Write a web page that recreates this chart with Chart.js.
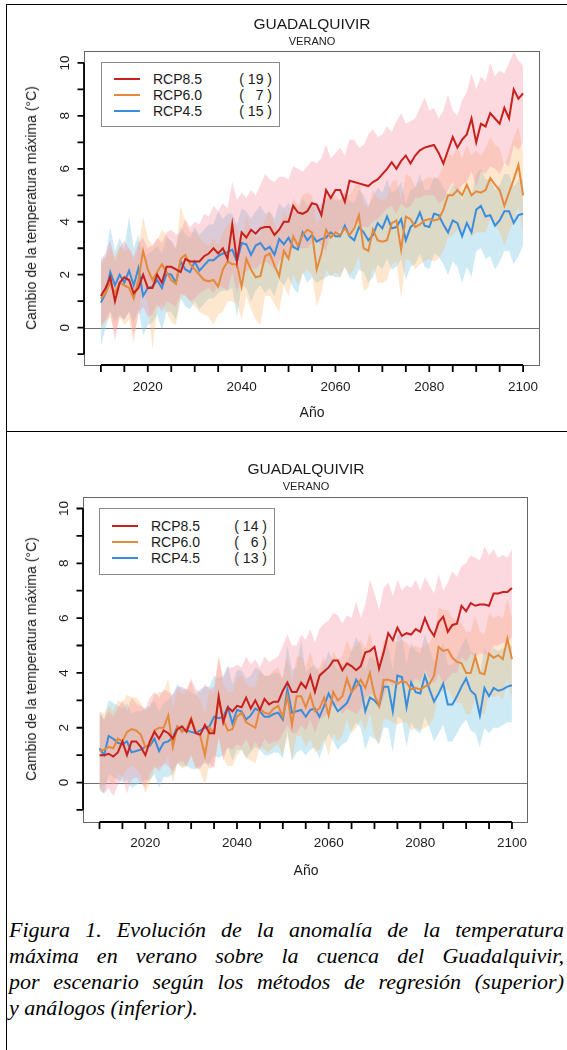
<!DOCTYPE html>
<html lang="es">
<head>
<meta charset="UTF-8">
<title>Guadalquivir - verano</title>
<script src="https://cdn.jsdelivr.net/npm/chart.js@4.4.0/dist/chart.umd.min.js"></script>
<style>
  body { margin: 0; background: #fff; }
  #page { position: relative; width: 567px; height: 1050px; overflow: hidden;
          font-family: "Liberation Sans", Arial, sans-serif; color: #1a1a1a; }
  .frame { position: absolute; left: 6px; top: 4px; width: 561px; height: 1046px;
           border-top: 1px solid #000; border-left: 1px solid #000; }
  .divider { position: absolute; left: 6px; top: 431px; width: 561px; border-top: 1px solid #000; }
  canvas { position: absolute; left: 0; }
  .t { position: absolute; transform: translate(-50%, -50%); white-space: nowrap; line-height: 1; }
  .title { font-size: 15.5px; }
  .sub { font-size: 11px; }
  .lab { font-size: 14px; }
  .ytitle { transform: translate(-50%, -50%) rotate(-90deg); }
  .legend { position: absolute; border: 1px solid #8a8a8a; background: #fff; }
  .lline { position: absolute; height: 2px; }
  .ltxt { position: absolute; font-size: 14px; line-height: 1; transform: translateY(-50%); white-space: nowrap; }
  .cap { position: absolute; left: 9px; width: 555px; font: italic 22px "Liberation Serif", "Times New Roman", serif;
         line-height: 26px; text-align: justify; text-align-last: justify; color: #000; }
  .cap.last { text-align-last: left; }
</style>
</head>
<body>
<div id="page">
  <div class="frame"></div>
  <div class="divider"></div>

  <!-- Gráfico superior: regresión -->
  <canvas id="chartReg" width="567" height="432" style="top:0"></canvas>
  <div class="t title" style="left:312px; top:24px">GUADALQUIVIR</div>
  <div class="t sub" style="left:312px; top:41px">VERANO</div>
  <div class="t lab ytitle" style="left:31px; top:208px">Cambio de la temperatura máxima (°C)</div>
  <div class="t lab" style="left:312px; top:412px">Año</div>
  <div class="legend" style="left:101px; top:62px; width:177px; height:63px"></div>
  <div class="lline" style="left:114px; top:78px; width:26px; background:#c8201c"></div>
  <div class="lline" style="left:114px; top:94px; width:26px; background:#e58a3c"></div>
  <div class="lline" style="left:114px; top:110px; width:26px; background:#3a8ddc"></div>
  <div class="ltxt" style="left:153px; top:79px">RCP8.5</div>
  <div class="ltxt" style="left:153px; top:95px">RCP6.0</div>
  <div class="ltxt" style="left:153px; top:111px">RCP4.5</div>
  <div class="ltxt" style="right:295px; top:79px">( 19 )</div>
  <div class="ltxt" style="right:295px; top:95px">(&nbsp;&nbsp;&nbsp;7 )</div>
  <div class="ltxt" style="right:295px; top:111px">( 15 )</div>

  <!-- Gráfico inferior: análogos -->
  <canvas id="chartAna" width="567" height="450" style="top:432px"></canvas>
  <div class="t title" style="left:306px; top:469px">GUADALQUIVIR</div>
  <div class="t sub" style="left:306px; top:486px">VERANO</div>
  <div class="t lab ytitle" style="left:31px; top:659px">Cambio de la temperatura máxima (°C)</div>
  <div class="t lab" style="left:306px; top:870px">Año</div>
  <div class="legend" style="left:99px; top:508px; width:174px; height:65px"></div>
  <div class="lline" style="left:112px; top:525px; width:26px; background:#c8201c"></div>
  <div class="lline" style="left:112px; top:541px; width:26px; background:#e58a3c"></div>
  <div class="lline" style="left:112px; top:557px; width:26px; background:#3a8ddc"></div>
  <div class="ltxt" style="left:151px; top:526px">RCP8.5</div>
  <div class="ltxt" style="left:151px; top:542px">RCP6.0</div>
  <div class="ltxt" style="left:151px; top:558px">RCP4.5</div>
  <div class="ltxt" style="right:300px; top:526px">( 14 )</div>
  <div class="ltxt" style="right:300px; top:542px">(&nbsp;&nbsp;&nbsp;6 )</div>
  <div class="ltxt" style="right:300px; top:558px">( 13 )</div>

  <div class="cap" style="top:917px">Figura 1. Evolución de la anomalía de la temperatura</div>
  <div class="cap" style="top:943px">máxima en verano sobre la cuenca del Guadalquivir,</div>
  <div class="cap" style="top:969px">por escenario según los métodos de regresión (superior)</div>
  <div class="cap last" style="top:995px">y análogos (inferior).</div>
</div>

<script>
// años 2010..2100
const years = Array.from({ length: 91 }, (_, i) => 2010 + i);

const xTicks = [2010, 2015, 2020, 2025, 2030, 2035, 2040, 2045, 2050, 2055, 2060,
                2065, 2070, 2075, 2080, 2085, 2090, 2095, 2100];
const xLabels = [2020, 2040, 2060, 2080, 2100];
const yTicks = [-1, 0, 1, 2, 3, 4, 5, 6, 7, 8, 9, 10];
const yLabels = [0, 2, 4, 6, 8, 10];

// ---- Regresión (superior) ----
const reg85 = [
  1.2, 1.5, 1.9, 1.0, 1.7, 1.9, 1.8, 1.3, 1.5, 2.0,
  1.5, 1.5, 2.0, 1.7, 2.3, 2.3, 2.2, 2.1, 2.6, 2.5,
  2.5, 2.5, 2.7, 2.8, 3.0, 2.8, 3.0, 2.6, 3.9, 2.5,
  3.6, 3.4, 3.7, 3.55, 3.75, 3.8, 3.8, 3.5, 3.7, 4.0,
  4.0, 4.6, 4.35, 4.3, 4.4, 4.7, 4.65, 4.25, 5.2, 4.9,
  5.2, 5.2, 4.75, 5.55, 5.5, 5.45, 5.4, 5.35, 5.5, 5.6,
  5.8, 6.0, 6.25, 6.0, 6.3, 6.5, 6.2, 6.5, 6.7, 6.8,
  6.85, 6.9, 6.6, 6.2, 6.7, 7.2, 6.8, 7.1, 7.3, 7.9,
  7.0, 7.7, 7.6, 8.1, 7.9, 7.7, 8.3, 7.9, 9.0, 8.65, 8.85
];
const reg85Hi = [
  2.6, 2.8, 3.3, 2.5, 3.0, 3.3, 3.0, 2.7, 3.2, 3.4,
  3.0, 3.1, 3.4, 3.2, 3.6, 3.7, 3.5, 3.6, 4.1, 3.8,
  4.0, 3.9, 4.3, 4.2, 4.6, 4.4, 4.7, 4.5, 5.5, 4.8,
  5.1, 4.9, 5.2, 5.0, 5.4, 5.8, 5.6, 5.5, 5.7, 5.7,
  5.6, 6.1, 6.0, 5.9, 6.1, 6.3, 6.2, 6.4, 6.9, 6.4,
  6.6, 6.8, 6.5, 7.1, 7.1, 6.8, 6.9, 7.3, 7.5, 7.2,
  7.3, 7.6, 7.4, 7.8, 8.1, 7.7, 7.8, 7.9, 8.3, 8.7,
  8.2, 8.3, 7.9, 8.2, 8.8, 8.2, 8.0, 8.6, 8.9, 9.6,
  9.0, 9.5, 9.3, 10.0, 9.5, 9.7, 9.6, 10.0, 10.4, 10.1, 9.9
];
const reg85Lo = [
  0.1, 0.3, 0.6, -0.5, 0.4, 0.3, 0.6, -0.3, 0.5, 0.8,
  0.4, 0.5, 0.9, 0.6, 1.0, 0.9, 0.8, 1.3, 1.2, 1.0,
  1.1, 1.3, 1.4, 1.5, 1.3, 1.6, 1.5, 1.4, 2.1, 1.3,
  2.0, 2.1, 2.3, 2.2, 2.4, 2.5, 2.4, 2.2, 2.5, 2.7,
  2.6, 3.1, 3.0, 3.0, 3.0, 3.2, 3.3, 3.1, 2.9, 3.6,
  3.5, 3.7, 3.8, 3.4, 4.0, 3.9, 3.8, 3.8, 4.0, 4.1,
  4.3, 4.5, 4.6, 4.3, 4.7, 4.5, 4.6, 4.9, 4.9, 5.0,
  5.0, 5.0, 4.7, 4.8, 5.2, 5.5, 5.1, 5.4, 5.5, 5.9,
  5.3, 5.9, 5.8, 6.1, 6.0, 5.8, 6.2, 6.1, 6.9, 6.7, 7.0
];
const reg60 = [
  1.1, 1.3, 1.7, 1.3, 1.7, 1.6, 1.5, 1.1, 1.8, 2.9,
  2.2, 1.8, 2.1, 2.4, 2.1, 1.8, 1.65, 2.6, 2.75, 2.4,
  2.2, 2.0, 1.8, 1.75, 1.8, 1.55, 2.2, 2.5, 2.4, 2.4,
  1.55, 2.6, 2.2, 1.9, 1.95, 2.7, 2.8, 2.35, 1.95, 2.9,
  2.6, 3.45, 3.1, 3.5, 3.7, 3.6, 2.2, 2.8, 3.7, 3.4,
  3.6, 3.5, 3.75, 3.5, 3.75, 4.25, 3.0, 2.9, 3.7, 3.3,
  3.25, 3.3, 3.95, 4.05, 2.95, 4.2, 4.1, 3.8, 3.9, 4.05,
  4.1, 4.05, 4.1, 4.45, 5.0, 5.0, 5.2, 5.0, 5.4, 5.0,
  5.15, 5.1, 5.2, 5.65, 5.4, 5.2, 4.6, 5.1, 5.6, 6.15, 5.0
];
const reg60Hi = [
  2.3, 2.6, 3.0, 2.7, 3.1, 2.9, 3.0, 2.5, 3.0, 4.2,
  3.4, 3.1, 3.3, 3.7, 3.5, 3.2, 3.0, 4.6, 4.0, 3.6,
  3.6, 3.4, 3.2, 3.1, 3.4, 3.1, 3.6, 3.9, 4.0, 3.8,
  3.2, 4.2, 3.7, 3.4, 3.5, 4.1, 4.4, 3.9, 3.6, 4.4,
  4.1, 4.9, 4.6, 5.0, 5.1, 5.0, 3.9, 4.3, 5.1, 4.9,
  5.0, 4.8, 5.1, 5.0, 5.3, 5.6, 4.7, 4.5, 5.2, 4.9,
  4.8, 4.9, 5.5, 5.6, 4.8, 5.8, 5.7, 5.3, 5.5, 5.6,
  5.7, 5.6, 5.7, 6.1, 6.6, 6.5, 6.8, 6.4, 6.9, 6.5,
  6.7, 6.5, 6.8, 7.2, 6.9, 6.8, 6.1, 6.6, 7.2, 7.6, 6.6
];
const reg60Lo = [
  0.0, 0.2, 0.4, -0.2, 0.4, 0.1, 0.3, -0.6, 0.6, 1.6,
  0.9, -0.8, 0.7, 0.9, 0.6, 0.2, 0.1, 1.1, 1.3, 1.0,
  0.8, 0.6, 0.5, 0.4, 0.1, 0.5, 0.6, 1.0, 1.0, 0.9,
  0.3, 1.2, 0.7, 0.3, 0.1, 1.2, 1.2, 0.9, 0.6, 1.6,
  1.2, 2.0, 1.6, 2.0, 2.2, 2.0, 0.8, 1.3, 2.2, 1.9,
  2.1, 1.9, 2.3, 2.0, 2.2, 2.7, 1.4, 1.5, 2.3, 1.7,
  1.7, 1.8, 2.4, 2.5, 1.1, 2.6, 2.5, 2.2, 2.4, 2.5,
  2.6, 2.5, 2.6, 2.9, 3.4, 3.5, 3.7, 3.5, 3.9, 3.4,
  3.6, 3.6, 3.6, 4.1, 3.9, 3.6, 3.1, 3.6, 4.0, 4.6, 3.5
];
const reg45 = [
  0.95, 1.3, 2.1, 1.6, 2.0, 1.7, 2.15, 1.6, 2.25, 1.2,
  1.5, 1.55, 1.8, 1.5, 2.05, 2.0, 1.7, 2.5, 2.2, 2.1,
  2.5, 2.15, 2.35, 2.55, 2.55, 2.7, 2.8, 2.85, 2.95, 2.5,
  3.2, 3.15, 2.75, 3.1, 3.2, 2.95, 3.05, 2.75, 3.35, 3.15,
  3.4, 3.05, 2.95, 3.6, 3.3, 3.5, 3.25, 3.35, 3.4, 3.6,
  3.45, 3.45, 3.85, 3.45, 3.3, 3.8, 3.6, 3.3, 3.5, 3.95,
  3.75, 4.2, 3.75, 3.8, 4.1, 3.3, 3.8, 3.95, 4.35, 3.85,
  3.8, 4.3, 4.25, 3.9, 3.6, 4.05, 3.95, 3.45, 3.95, 3.6,
  4.45, 4.6, 4.2, 4.25, 3.85, 4.05, 4.4, 4.4, 3.95, 4.25, 4.3
];
const reg45Hi = [
  2.5, 2.7, 3.8, 2.9, 3.4, 3.0, 4.2, 3.0, 3.5, 2.6,
  2.8, 2.9, 3.1, 2.8, 3.4, 3.3, 3.0, 3.8, 3.5, 3.4,
  3.8, 3.5, 3.7, 3.9, 3.9, 4.4, 4.1, 4.3, 4.3, 3.9,
  4.5, 4.4, 4.1, 4.4, 4.6, 4.3, 4.4, 4.1, 4.7, 4.5,
  4.7, 4.4, 4.3, 4.9, 4.6, 4.8, 4.6, 4.7, 4.8, 5.0,
  4.8, 4.8, 5.2, 4.8, 4.7, 5.2, 5.0, 4.6, 4.9, 5.3,
  5.1, 5.6, 5.1, 5.2, 5.5, 4.7, 5.2, 5.3, 5.8, 5.2,
  5.2, 5.7, 5.6, 5.3, 5.0, 5.4, 5.3, 4.8, 5.3, 5.0,
  5.8, 6.0, 5.6, 5.6, 5.2, 5.4, 5.8, 5.8, 5.3, 5.6, 5.6
];
const reg45Lo = [
  -0.7, 0.0, 0.6, 0.2, 0.5, 0.3, 0.6, 0.2, 0.7, -0.3,
  0.1, 0.2, 0.5, -0.1, 0.6, 0.6, 0.3, 1.1, 0.8, 0.7,
  1.0, 0.7, 0.9, 1.1, 1.1, 1.3, 1.4, 1.4, 1.5, 0.4,
  1.6, 1.5, 1.0, 1.4, 1.6, 1.3, 1.5, 1.2, 1.8, 1.6,
  1.9, 1.5, 1.3, 2.1, 1.7, 1.9, 1.7, 1.8, 1.9, 2.0,
  1.9, 1.9, 2.3, 1.9, 1.8, 2.2, 2.1, 1.7, 1.9, 2.4,
  2.2, 2.6, 2.2, 2.3, 2.6, 1.8, 2.3, 2.4, 2.8, 2.3,
  2.2, 2.8, 2.7, 2.4, 2.0, 2.5, 2.3, 1.7, 2.3, 1.9,
  2.9, 3.0, 2.6, 2.7, 2.2, 2.5, 2.9, 2.9, 2.4, 2.7, 3.1
];

// ---- Análogos (inferior) ----
const ana85 = [
  1.0, 1.0, 1.05, 0.95, 1.1, 1.5, 1.0, 1.5, 1.5, 1.3,
  1.0, 1.5, 1.85, 1.6, 1.9, 1.8, 1.6, 1.95, 2.05, 1.85,
  2.3, 1.8, 1.75, 2.1, 1.8, 1.8, 3.15, 2.2, 2.75, 2.6,
  2.8, 2.75, 3.1, 2.7, 3.0, 2.65, 3.05, 2.85, 2.95, 2.95,
  3.35, 3.65, 3.3, 3.3, 3.65, 3.45, 3.9, 3.3, 3.9, 4.05,
  4.2, 4.45, 4.45, 4.1, 4.35, 4.25, 4.1, 4.25, 4.75, 4.8,
  4.95, 4.15, 4.75, 5.45, 5.2, 5.65, 5.35, 5.45, 5.4, 5.6,
  5.5, 6.0, 5.6, 5.35, 5.85, 6.05, 5.5, 5.75, 5.8, 6.45,
  6.25, 6.55, 6.45, 6.5, 6.5, 6.45, 6.9, 6.9, 6.95, 6.95, 7.1
];
const ana85Hi = [
  2.5, 2.3, 2.6, 2.4, 2.7, 3.0, 2.6, 3.1, 2.9, 2.8,
  2.7, 3.1, 3.3, 3.1, 3.4, 3.3, 3.2, 3.5, 3.5, 3.4,
  3.8, 3.4, 3.3, 3.6, 3.4, 3.5, 4.6, 3.8, 4.2, 4.2,
  4.3, 4.2, 4.6, 4.3, 4.5, 4.2, 4.6, 4.4, 4.5, 4.6,
  5.0, 5.4, 5.0, 5.0, 5.4, 5.2, 5.6, 5.1, 5.6, 5.8,
  5.9, 6.2, 6.1, 5.8, 6.1, 6.0, 6.6, 6.0, 6.5, 7.4,
  6.9, 6.3, 7.1, 7.3, 6.8, 7.4, 7.0, 7.2, 7.1, 7.4,
  7.0, 7.5, 7.2, 6.9, 7.6, 7.0, 7.3, 7.7, 7.5, 7.9,
  8.0, 8.3, 8.2, 8.1, 8.6, 8.3, 8.5, 8.2, 8.3, 8.2, 8.5
];
const ana85Lo = [
  -0.3, -0.4, -0.2, -0.5, -0.1, 0.2, -0.4, 0.1, 0.2, 0.0,
  -0.2, 0.3, 0.6, 0.4, 0.7, 0.6, 0.4, 0.7, 0.8, 0.6,
  1.0, 0.5, 0.5, 0.8, 0.5, 0.6, 1.7, 0.8, 1.3, 1.2,
  1.4, 1.3, 1.6, 1.2, 1.5, 1.2, 1.6, 1.4, 1.5, 1.5,
  1.8, 2.1, 1.8, 1.8, 2.1, 1.9, 2.3, 1.8, 2.3, 2.4,
  2.6, 2.8, 2.8, 2.5, 2.7, 2.6, 2.5, 2.7, 3.1, 3.2,
  3.3, 2.6, 3.1, 3.7, 3.5, 3.9, 3.6, 3.7, 3.6, 3.8,
  3.7, 4.1, 3.8, 3.6, 4.0, 3.6, 3.8, 4.0, 4.0, 4.6,
  4.4, 4.7, 4.6, 4.7, 4.7, 4.6, 5.0, 5.0, 5.1, 5.1, 5.3
];
const ana60 = [
  1.15, 1.2, 1.3, 1.25, 1.6, 1.5, 1.85, 1.95, 1.9, 1.75,
  1.3, 1.4, 1.9, 2.0, 2.0, 2.45, 1.3, 2.05, 1.85, 1.95,
  2.35, 1.85, 1.7, 1.0, 2.0, 1.8, 3.05, 2.3, 1.9, 1.95,
  2.4, 2.55, 2.2, 2.1, 2.0, 2.7, 2.55, 2.5, 2.7, 2.8,
  2.4, 3.15, 2.1, 3.15, 3.15, 2.75, 3.2, 2.6, 2.7, 3.1,
  2.45, 3.3, 3.0, 3.15, 3.8, 3.3, 3.5, 3.75, 3.45, 4.0,
  3.2, 2.8, 3.75, 3.75, 3.7, 3.6, 3.7, 3.65, 3.4, 3.45,
  3.4, 3.5, 3.6, 3.9, 4.95, 4.8, 4.85, 4.55, 4.4, 4.35,
  4.0, 4.0, 4.6, 4.0, 3.95, 4.7, 4.55, 4.65, 4.5, 5.25, 4.5
];
const ana60Hi = [
  2.6, 2.5, 2.8, 2.6, 3.0, 2.9, 3.2, 3.1, 3.1, 2.9,
  2.6, 2.8, 3.2, 3.3, 3.3, 3.8, 2.7, 3.4, 3.2, 3.3,
  3.7, 3.2, 3.0, 2.5, 3.4, 3.2, 4.6, 3.6, 3.3, 3.3,
  3.8, 3.9, 3.6, 3.5, 3.5, 4.1, 3.9, 3.9, 4.1, 4.2,
  3.8, 4.6, 3.6, 4.6, 4.6, 4.2, 4.8, 4.1, 4.2, 4.6,
  4.0, 4.8, 4.5, 4.6, 5.2, 4.8, 5.0, 5.2, 4.9, 5.5,
  4.7, 4.3, 5.2, 5.2, 5.2, 5.1, 5.2, 5.1, 4.9, 5.0,
  4.9, 5.0, 5.1, 5.4, 6.4, 6.3, 6.3, 6.0, 5.9, 5.8,
  5.5, 5.5, 6.1, 5.5, 5.4, 6.2, 6.0, 6.1, 6.0, 6.7, 6.0
];
const ana60Lo = [
  -0.2, -0.1, 0.1, -0.1, 0.3, 0.2, 0.5, 0.6, 0.5, 0.3,
  -0.4, 0.0, 0.5, 0.6, 0.6, 1.0, 0.0, 0.7, 0.5, 0.6,
  1.0, 0.6, 0.4, -0.1, 0.7, 0.5, 1.6, 0.9, 0.6, 0.6,
  1.0, 1.2, 0.9, 0.8, 0.7, 1.3, 1.2, 1.1, 1.3, 1.4,
  1.0, 1.7, 0.8, 1.7, 1.7, 1.3, 1.6, 1.1, 1.2, 1.6,
  1.0, 1.8, 1.5, 1.7, 2.3, 1.8, 2.0, 2.3, 1.9, 2.5,
  1.7, 1.4, 2.3, 2.3, 2.2, 2.1, 2.2, 2.2, 1.9, 2.0,
  1.9, 2.0, 2.1, 2.4, 3.4, 3.3, 3.4, 3.1, 2.9, 2.9,
  2.5, 2.5, 3.1, 2.5, 2.5, 3.2, 3.1, 3.2, 3.0, 3.8, 3.0
];
const ana45 = [
  1.25, 1.0, 1.7, 1.6, 1.45, 1.4, 1.5, 1.1, 1.15, 1.2,
  1.3, 1.35, 1.6, 1.15, 1.45, 1.5, 1.65, 2.05, 1.9, 1.9,
  1.85, 1.8, 1.9, 2.0, 2.05, 2.4, 2.35, 2.4, 2.75, 2.15,
  2.65, 2.6, 2.3, 2.45, 2.7, 2.6, 2.4, 2.4, 2.5, 2.55,
  2.3, 3.4, 2.55, 2.6, 2.65, 2.4, 2.65, 2.7, 2.4, 2.8,
  3.25, 2.9, 2.6, 2.75, 2.9, 3.3, 3.75, 3.5, 2.6, 3.1,
  3.0, 2.8, 3.5, 3.5, 2.6, 3.9, 3.85, 2.75, 3.65, 3.3,
  3.25, 3.9, 3.4, 2.95, 3.25, 3.6, 2.85, 2.85, 3.15, 3.5,
  3.8, 3.35, 3.2, 2.45, 3.45, 3.15, 3.45, 3.35, 3.4, 3.5, 3.55
];
const ana45Hi = [
  2.6, 2.3, 3.0, 2.9, 2.8, 2.7, 2.9, 2.5, 2.6, 2.6,
  2.7, 2.8, 3.0, 2.6, 2.9, 3.0, 3.2, 3.6, 3.4, 3.4,
  3.3, 3.2, 3.4, 3.5, 3.5, 3.9, 3.8, 3.9, 4.3, 3.6,
  4.1, 4.1, 3.8, 3.9, 4.2, 4.1, 3.9, 3.9, 4.0, 4.0,
  3.8, 5.0, 4.1, 4.2, 5.2, 4.0, 4.2, 4.3, 4.0, 4.3,
  4.8, 4.4, 4.1, 4.3, 4.4, 4.8, 5.3, 5.0, 4.1, 4.6,
  4.5, 4.3, 5.0, 5.0, 4.1, 5.4, 5.4, 4.3, 5.1, 4.8,
  4.7, 5.4, 4.9, 4.4, 4.7, 5.1, 4.3, 4.3, 4.6, 5.0,
  5.3, 4.8, 4.7, 4.0, 4.9, 4.6, 4.9, 4.8, 4.9, 5.0, 5.0
];
const ana45Lo = [
  -0.2, -0.4, 0.3, 0.2, 0.1, 0.0, 0.1, -0.2, -0.1, 0.0,
  0.1, 0.1, 0.3, -0.2, 0.2, 0.2, 0.3, 0.7, 0.6, 0.6,
  0.5, 0.5, 0.6, 0.7, 0.7, 1.0, 0.9, 1.0, 1.3, 0.8,
  1.2, 1.2, 0.9, 1.1, 1.3, 1.2, 1.0, 1.0, 1.1, 1.1,
  0.9, 1.9, 0.8, 1.1, 1.2, 1.0, 1.2, 1.3, 0.9, 1.4,
  1.8, 1.5, 1.2, 1.4, 1.5, 1.9, 2.2, 2.0, 1.2, 1.7,
  1.6, 1.4, 2.0, 2.0, 1.1, 2.4, 2.3, 1.3, 2.2, 1.9,
  1.8, 2.4, 2.0, 1.5, 1.8, 2.1, 1.5, 1.5, 1.8, 2.1,
  2.3, 1.9, 1.8, 1.3, 2.0, 1.8, 2.0, 2.0, 2.1, 2.2, 2.2
];

// colores
const C85 = '#c8201c', C60 = '#e58a3c', C45 = '#3a8ddc';
const B85 = 'rgba(245, 140, 160, 0.34)', B60 = 'rgba(250, 185, 110, 0.34)', B45 = 'rgba(125, 200, 228, 0.38)';

function pts(arr) {
  return arr.map((v, i) => ({ x: years[i], y: v }));
}

function lineDs(arr, color, order) {
  return { data: pts(arr), borderColor: color, borderWidth: 2, pointRadius: 0,
           fill: false, tension: 0, order: order };
}

function bandDs(hi, lo, color, order) {
  return [
    { data: pts(hi), borderColor: 'rgba(0,0,0,0)', borderWidth: 0, pointRadius: 0,
      backgroundColor: color, fill: '+1', tension: 0, order: order },
    { data: pts(lo), borderColor: 'rgba(0,0,0,0)', borderWidth: 0, pointRadius: 0,
      fill: false, tension: 0, order: order }
  ];
}

// ejes al estilo R: caja gris, ejes negros, marcas y etiquetas
const rAxes = {
  id: 'rAxes',
  beforeDatasetsDraw(chart) {
    const { ctx, chartArea: a, scales: { y } } = chart;
    const y0 = Math.round(y.getPixelForValue(0)) + 0.5;
    ctx.save();
    ctx.strokeStyle = '#707070';
    ctx.lineWidth = 1;
    ctx.beginPath();
    ctx.moveTo(a.left, y0);
    ctx.lineTo(a.right, y0);
    ctx.stroke();
    ctx.restore();
  },
  afterDraw(chart) {
    const { ctx, chartArea: a, scales: { x, y } } = chart;
    const opt = chart.options.plugins.rAxes;
    ctx.save();
    // caja
    ctx.strokeStyle = '#666';
    ctx.lineWidth = 1;
    ctx.strokeRect(a.left + 0.5, a.top + 0.5, a.right - a.left - 1, a.bottom - a.top);
    // eje x
    ctx.strokeStyle = '#000';
    ctx.lineWidth = 1.8;
    ctx.beginPath();
    ctx.moveTo(x.getPixelForValue(xTicks[0]), a.bottom);
    ctx.lineTo(x.getPixelForValue(xTicks[xTicks.length - 1]), a.bottom);
    xTicks.forEach(t => {
      const px = x.getPixelForValue(t);
      ctx.moveTo(px, a.bottom);
      ctx.lineTo(px, a.bottom + 7);
    });
    // eje y
    ctx.moveTo(a.left, y.getPixelForValue(yTicks[0]));
    ctx.lineTo(a.left, y.getPixelForValue(yTicks[yTicks.length - 1]));
    yTicks.forEach(t => {
      const py = y.getPixelForValue(t);
      ctx.moveTo(a.left, py);
      ctx.lineTo(a.left - 6.5, py);
    });
    ctx.stroke();
    // etiquetas
    ctx.fillStyle = '#1a1a1a';
    ctx.font = '13.5px "Liberation Sans", Arial, sans-serif';
    ctx.textAlign = 'center';
    ctx.textBaseline = 'middle';
    xLabels.forEach(t => {
      ctx.fillText(String(t), x.getPixelForValue(t), a.bottom + opt.xLabelGap);
    });
    yLabels.forEach(t => {
      ctx.save();
      ctx.translate(a.left - 20, y.getPixelForValue(t));
      ctx.rotate(-Math.PI / 2);
      ctx.fillText(String(t), 0, 1);
      ctx.restore();
    });
    ctx.restore();
  }
};

function makeChart(id, s85, s60, s45, geo) {
  const datasets = [
    lineDs(s85.mid, C85, 1),
    lineDs(s60.mid, C60, 2),
    lineDs(s45.mid, C45, 3),
    ...bandDs(s85.hi, s85.lo, B85, 10),
    ...bandDs(s60.hi, s60.lo, B60, 11),
    ...bandDs(s45.hi, s45.lo, B45, 12)
  ];
  return new Chart(document.getElementById(id), {
    type: 'line',
    data: { datasets: datasets },
    options: {
      responsive: false,
      animation: false,
      devicePixelRatio: 1,
      events: [],
      layout: { padding: geo.pad },
      scales: {
        x: { type: 'linear', display: false, min: geo.xMin, max: geo.xMax },
        y: { type: 'linear', display: false, min: geo.yMin, max: geo.yMax }
      },
      plugins: {
        legend: { display: false },
        tooltip: { enabled: false },
        rAxes: { xLabelGap: geo.xLabelGap }
      }
    },
    plugins: [rAxes]
  });
}

makeChart('chartReg',
  { mid: reg85, hi: reg85Hi, lo: reg85Lo },
  { mid: reg60, hi: reg60Hi, lo: reg60Lo },
  { mid: reg45, hi: reg45Hi, lo: reg45Lo },
  { pad: { left: 84, right: 27, top: 51, bottom: 67 },
    xMin: 2006.4, xMax: 2103.6, yMin: -1.41, yMax: 10.45, xLabelGap: 22 });

makeChart('chartAna',
  { mid: ana85, hi: ana85Hi, lo: ana85Lo },
  { mid: ana60, hi: ana60Hi, lo: ana60Lo },
  { mid: ana45, hi: ana45Hi, lo: ana45Lo },
  { pad: { left: 83, right: 39, top: 65, bottom: 60 },
    xMin: 2006.4, xMax: 2103.5, yMin: -1.44, yMax: 10.42, xLabelGap: 21 });
</script>
</body>
</html>
